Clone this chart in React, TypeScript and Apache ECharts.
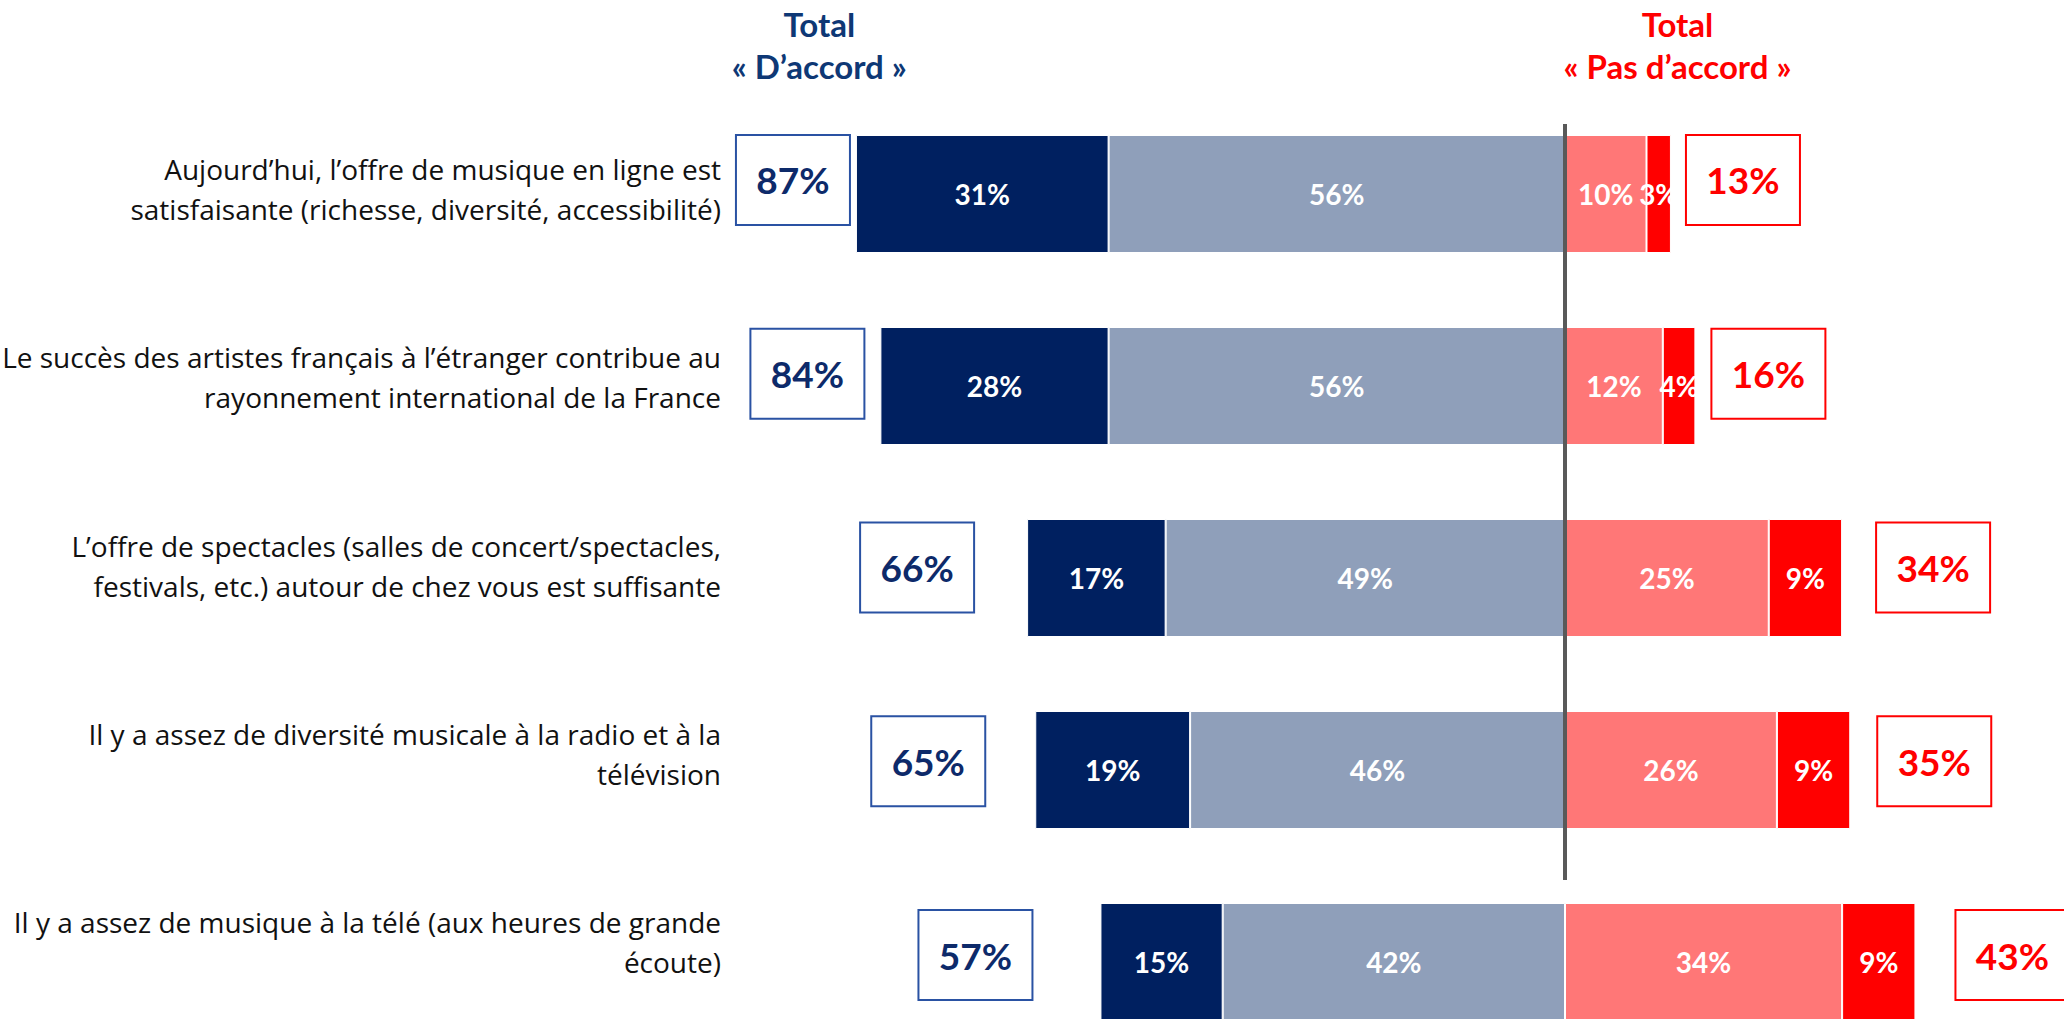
import React, { useEffect, useRef } from "react";
import * as echarts from "echarts";

const statements = [
  "Aujourd’hui, l’offre de musique en ligne est\nsatisfaisante (richesse, diversité, accessibilité)",
  "Le succès des artistes français à l’étranger contribue au\nrayonnement international de la France",
  "L’offre de spectacles (salles de concert/spectacles,\nfestivals, etc.) autour de chez vous est suffisante",
  "Il y a assez de diversité musicale à la radio et à la\ntélévision",
  "Il y a assez de musique à la télé (aux heures de grande\nécoute)",
];
const toutAFaitDaccord = [31, 28, 17, 19, 15];
const plutotDaccord = [56, 56, 49, 46, 42];
const plutotPasDaccord = [10, 12, 25, 26, 34];
const pasDuToutDaccord = [3, 4, 9, 9, 9];
const totalDaccord = [87, 84, 66, 65, 57];
const totalPasDaccord = [13, 16, 34, 35, 43];

// layout constants (pixel gaps between bar ends and total boxes)
const LEFT_GAP = [6, 16, 53, 50, 68];
const RIGHT_GAP = [15, 16, 34, 27, 40];
const BOX_W = 114;
const BOX_H = 90;

const FONT = "Lato, 'Open Sans', sans-serif";
const LABEL_FONT = "'Open Sans', 'Noto Sans', sans-serif";
const NAVY = "#002060";
const GREY = "#8F9FBA";
const LIGHTRED = "#FF7777";
const RED = "#FF0000";

export default function App() {
  const ref = useRef<HTMLDivElement>(null);
  useEffect(() => {
    if (!ref.current) return;
    const chart = echarts.init(ref.current, undefined, { renderer: "svg" });
    const idx = statements.map((_, i) => String(i));
    const barLabel = {
      show: true,
      position: "inside",
      color: "#fff",
      fontFamily: FONT,
      fontWeight: "bold",
      fontSize: 28,
      formatter: (p: any) => Math.abs(p.value) + "%",
    };
    const barSeries = (name: string, values: number[], sign: number, color: string) => ({
      name,
      type: "bar",
      stack: "total",
      xAxisIndex: 0,
      yAxisIndex: 0,
      barWidth: 118,
      data: values.map((v) => sign * v),
      itemStyle: { color, borderColor: "#fff", borderWidth: 1 },
      label: barLabel,
    });
    const boxSeries = (values: number[], sign: number, stroke: string, textColor: string) => ({
      type: "custom",
      xAxisIndex: 2,
      yAxisIndex: 2,
      data: values.map((v, i) => [sign * v, i]),
      z: 5,
      renderItem: (params: any, api: any) => {
        const i = api.value(1);
        const v = api.value(0);
        const p = api.coord([v, i]);
        const x = sign < 0 ? p[0] - LEFT_GAP[i] - BOX_W : p[0] + RIGHT_GAP[i];
        const y = p[1] - BOX_H / 2;
        return {
          type: "group",
          children: [
            {
              type: "rect",
              shape: { x, y, width: BOX_W, height: BOX_H },
              style: { fill: "#fff", stroke, lineWidth: 2 },
            },
            {
              type: "text",
              x: x + BOX_W / 2,
              y: p[1],
              style: {
                text: Math.abs(v) + "%",
                fill: textColor,
                fontFamily: FONT,
                fontWeight: "bold",
                fontSize: 37,
                align: "center",
                verticalAlign: "middle",
              },
            },
          ],
        };
      },
    });
    const gridX = { left: 750, width: 1304, outerBoundsMode: "none", containLabel: false };
    const xAx = (g: number) => ({ gridIndex: g, type: "value", min: -100, max: 60, show: false });
    chart.setOption({
      animation: false,
      grid: [
        { ...gridX, top: 98, height: 960 },
        { ...gridX, top: 94.6, height: 942 },
        { ...gridX, top: 83, height: 969 },
      ],
      xAxis: [xAx(0), xAx(1), xAx(2)],
      yAxis: [
        { gridIndex: 0, type: "category", data: idx, inverse: true, show: false },
        {
          gridIndex: 1,
          type: "category",
          data: statements,
          inverse: true,
          axisLine: { show: false },
          axisTick: { show: false },
          splitLine: { show: false },
          axisLabel: {
            margin: 29,
            align: "right",
            color: "#111",
            fontFamily: LABEL_FONT,
            fontSize: 28,
            lineHeight: 40,
          },
        },
        { gridIndex: 2, type: "category", data: idx, inverse: true, show: false },
      ],
      series: [
        barSeries("Plutôt d'accord", plutotDaccord, -1, GREY),
        barSeries("Tout à fait d'accord", toutAFaitDaccord, -1, NAVY),
        barSeries("Plutôt pas d'accord", plutotPasDaccord, 1, LIGHTRED),
        barSeries("Pas du tout d'accord", pasDuToutDaccord, 1, RED),
        boxSeries(totalDaccord, -1, "#2A52A3", "#0D2A6A"),
        boxSeries(totalPasDaccord, 1, RED, RED),
      ],
    });
    const x0 = chart.convertToPixel({ xAxisIndex: 0 }, 0) as number;
    const yFirst = chart.convertToPixel({ yAxisIndex: 0 }, 0) as number;
    const yFourth = chart.convertToPixel({ yAxisIndex: 0 }, 3) as number;
    const leftHead = chart.convertToPixel({ xAxisIndex: 0 }, -91.5) as number;
    const rightHead = chart.convertToPixel({ xAxisIndex: 0 }, 13.8) as number;
    const headStyle = {
      fontFamily: FONT,
      fontWeight: "bold",
      fontSize: 33,
      lineHeight: 42,
      align: "center",
      verticalAlign: "middle",
    };
    chart.setOption({
      graphic: [
        {
          type: "line",
          z: 100,
          shape: { x1: x0, y1: yFirst - 70, x2: x0, y2: yFourth + 110 },
          style: { stroke: "#595959", lineWidth: 4 },
        },
        {
          type: "text",
          x: leftHead,
          y: 45,
          style: { ...headStyle, text: "Total\n« D’accord »", fill: "#0E3875" },
        },
        {
          type: "text",
          x: rightHead,
          y: 45,
          style: { ...headStyle, text: "Total\n« Pas d’accord »", fill: RED },
        },
      ],
    });
    return () => chart.dispose();
  }, []);
  return (
    <div
      ref={ref}
      style={{ position: "fixed", left: 0, top: 0, width: 2064, height: 1019, background: "#fff" }}
    />
  );
}
